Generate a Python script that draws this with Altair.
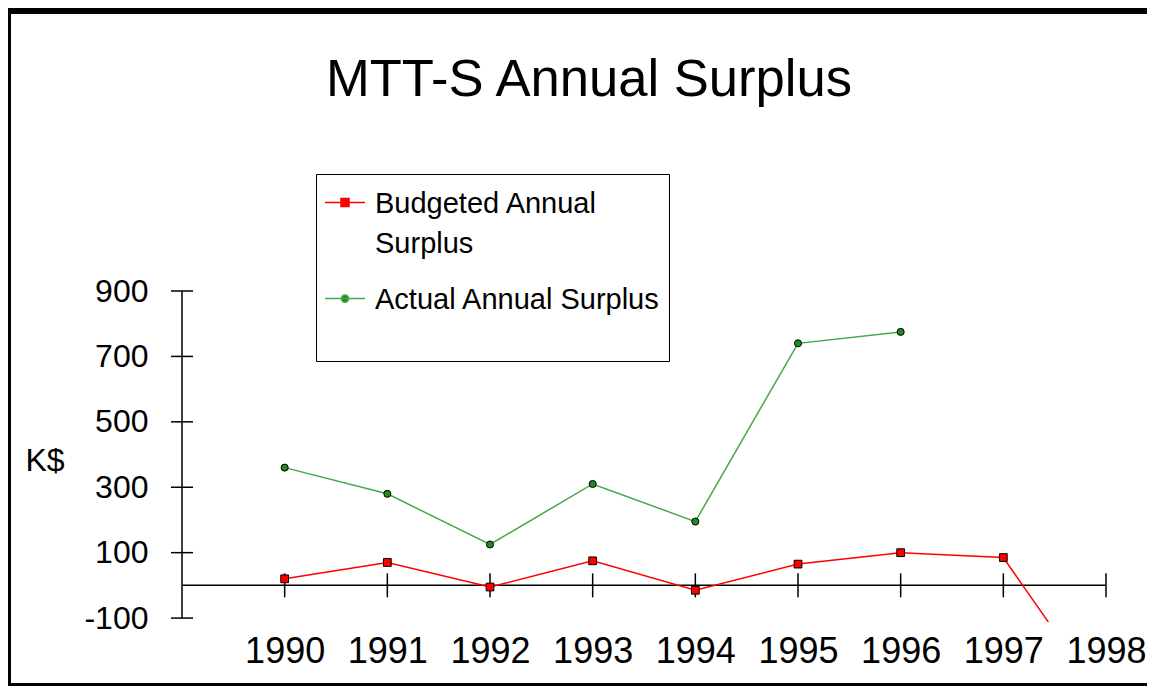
import altair as alt
import pandas as pd

# ---- data ----
years = [1990, 1991, 1992, 1993, 1994, 1995, 1996, 1997, 1998]
budgeted = [20, 70, -5, 75, -15, 65, 100, 85, -365]
actual_years = [1990, 1991, 1992, 1993, 1994, 1995, 1996]
actual = [360, 280, 125, 310, 195, 740, 775]
series_names = ["Budgeted Annual Surplus", "Actual Annual Surplus"]
y_ticks = [-100, 100, 300, 500, 700, 900]
x_domain = [1989, 1998]
y_domain = [-112, 900]

rows = [{"year": yr, "value": v, "series": series_names[0]} for yr, v in zip(years, budgeted)]
rows += [{"year": yr, "value": v, "series": series_names[1]} for yr, v in zip(actual_years, actual)]
df = pd.DataFrame(rows)

yaxis_df = pd.DataFrame({"x": [x_domain[0]], "y": [y_ticks[0]], "y2": [y_ticks[-1]]})
xaxis_df = pd.DataFrame({"x": [x_domain[0]], "x2": [x_domain[1]], "y": [0]})
yt_df = pd.DataFrame({"x": [x_domain[0]] * len(y_ticks), "y": y_ticks})
xt_df = pd.DataFrame({"x": years, "y": [0] * len(years)})

FONT = "Liberation Sans"
W, H = 924, 331
PAD = {"left": 174, "top": 283, "right": 41, "bottom": 64}
RED = "#FF0000"
GREEN_LINE = "#45A845"
GREEN_FILL = "#1F8A1F"

xs = alt.Scale(domain=x_domain, nice=False, zero=False)
ys = alt.Scale(domain=y_domain, nice=False, zero=False)

x_enc = alt.X("year:Q", scale=xs, axis=alt.Axis(
    values=years, format="d", domain=False, ticks=False, grid=False,
    labelFontSize=36, labelPadding=12, labelFont=FONT, labelColor="black",
    labelFlush=False, labelOverlap=False, title=None))
y_enc = alt.Y("value:Q", scale=ys, axis=alt.Axis(
    values=y_ticks, domain=False, ticks=False, grid=False,
    labelExpr="'' + datum.value",
    labelFontSize=32, labelPadding=34, labelFont=FONT, labelColor="black",
    labelFlush=False, labelOverlap=False,
    title="K$", titleAngle=0, titleAlign="left", titleBaseline="middle",
    titleX=-157, titleY=169, titleFontSize=32, titleFont=FONT,
    titleFontWeight="normal", titleColor="black"))

base = alt.Chart(df)

bud_line = base.transform_filter(alt.datum.series == series_names[0]).mark_line(
    color=RED, strokeWidth=1.5, clip=True).encode(x=x_enc, y=y_enc)
act_line = base.transform_filter(alt.datum.series == series_names[1]).mark_line(
    color=GREEN_LINE, strokeWidth=1.5, clip=True).encode(x=x_enc, y=y_enc)
bud_pts = base.transform_filter(alt.datum.series == series_names[0]).mark_point(
    shape="square", filled=True, fill=RED, stroke="black", strokeWidth=1,
    size=60, opacity=1, clip=True).encode(x=x_enc, y=y_enc)
act_pts = base.transform_filter(alt.datum.series == series_names[1]).mark_point(
    shape="circle", filled=True, fill=GREEN_FILL, stroke="black", strokeWidth=1,
    size=50, opacity=1, clip=True).encode(x=x_enc, y=y_enc)

# axis lines and crossing ticks
yaxis_line = alt.Chart(yaxis_df).mark_rule(color="black", strokeWidth=1.5).encode(
    x=alt.X("x:Q", scale=xs), y=alt.Y("y:Q", scale=ys), y2="y2:Q")
xaxis_line = alt.Chart(xaxis_df).mark_rule(color="black", strokeWidth=1.5).encode(
    x=alt.X("x:Q", scale=xs), x2="x2:Q", y=alt.Y("y:Q", scale=ys))
yticks = alt.Chart(yt_df).mark_tick(orient="horizontal", size=22, thickness=1.5, color="black", opacity=1).encode(
    x=alt.X("x:Q", scale=xs), y=alt.Y("y:Q", scale=ys))
xticks = alt.Chart(xt_df).mark_tick(orient="vertical", size=24, thickness=1.5, color="black", opacity=1).encode(
    x=alt.X("x:Q", scale=xs), y=alt.Y("y:Q", scale=ys))

# legend symbols: a short line with the marker, raised to the label's cap centre
# (the bare move-to points only widen the entry's box, they draw nothing)
sq_path = "M0,-1.65M-1,-0.52H1M-0.2,-0.72H0.2V-0.32H-0.2Z"
ci_path = "M0,-1.65M0,2.05M-1,-0.52H1M0.18,-0.52A0.18,0.18,0,1,1,-0.18,-0.52A0.18,0.18,0,1,1,0.18,-0.52Z"

leg = alt.Legend(
    title=" ", titleOrient="top", titleFontSize=2, titlePadding=8,
    orient="none", legendX=134, legendY=-117,
    strokeColor="black", fillColor="white", padding=8, cornerRadius=0,
    labelFont=FONT, labelFontSize=29, labelColor="black", labelOffset=9,
    labelBaseline="alphabetic",
    labelLimit=500, symbolSize=1600, symbolStrokeWidth=1.5, symbolOpacity=1,
    rowPadding=14,
    labelExpr="datum.label == 'Budgeted Annual Surplus' ? ['Budgeted Annual', 'Surplus'] : datum.label")

# legend carrier: draws no marks itself, only supplies the legend entries
proxy = base.transform_filter("false").mark_point(filled=True).encode(
    x=x_enc, y=y_enc,
    color=alt.Color("series:N", scale=alt.Scale(domain=series_names, range=[RED, GREEN_FILL]), legend=leg),
    stroke=alt.Stroke("series:N", scale=alt.Scale(domain=series_names, range=[RED, GREEN_LINE]), legend=leg),
    shape=alt.Shape("series:N", scale=alt.Scale(domain=series_names, range=[sq_path, ci_path]), legend=leg),
)

frame_df = pd.DataFrame({"k": [0]})
frame = alt.Chart(frame_df).mark_rect(filled=False, stroke="black", strokeWidth=3).encode(
    x=alt.value(-PAD["left"] + 1.5), x2=alt.value(W + PAD["right"] + 100),
    y=alt.value(-PAD["top"] + 1.5), y2=alt.value(H + PAD["bottom"] - 1.5))
topbar = alt.Chart(frame_df).mark_rect(color="black").encode(
    x=alt.value(-PAD["left"]), x2=alt.value(W + PAD["right"]),
    y=alt.value(-PAD["top"]), y2=alt.value(-PAD["top"] + 6))

chart = alt.layer(
    frame, topbar, yaxis_line, xaxis_line, yticks, xticks,
    bud_line, act_line, bud_pts, act_pts, proxy
).properties(
    width=W, height=H,
    padding=PAD,
    autosize=alt.AutoSizeParams(type="none"),
    background="white",
    title=alt.TitleParams(
        "MTT-S Annual Surplus", font=FONT, fontSize=52.6, fontWeight="normal",
        color="black", anchor="middle", frame="group", baseline="alphabetic",
        offset=-141, dx=-55),
).configure(style={"guide-label": {"lineHeight": 40}}).configure_view(stroke=None)

chart.save("out.html", embed_options={"renderer": "svg", "actions": False})
